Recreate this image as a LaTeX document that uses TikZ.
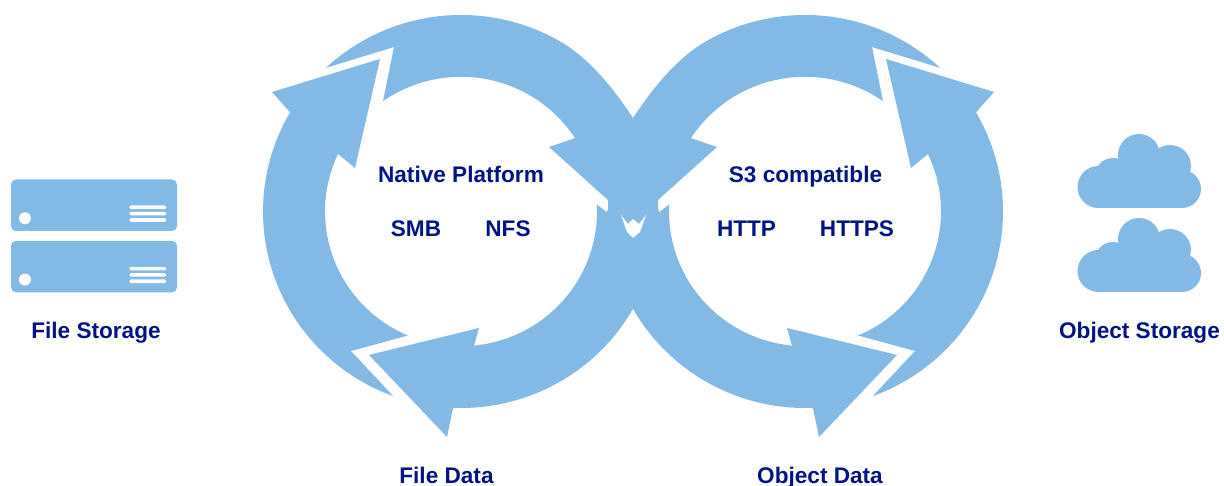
\documentclass[tikz,border=0pt]{standalone}
\usepackage{fontspec}
\usetikzlibrary{calc}
\setmainfont{Liberation Sans}
\definecolor{ringblue}{HTML}{83B9E5}
\definecolor{labelnavy}{HTML}{021485}
\tikzset{
  shapefill/.style={fill=ringblue,draw=none},
  hole/.style={fill=white,draw=none},
  lab/.style={text=labelnavy,font=\fontsize{22.6}{26}\selectfont\bfseries,anchor=base,inner sep=0pt,outer sep=0pt},
  outerarc/.style={x radius=198,y radius=196.5},
  innerarc/.style={x radius=136,y radius=134.7}
}
\newcommand{\ringpath}[1]{%
  \begin{scope}[#1]
  % top arrow joined to bottom arrow through the crossing
  \fill[shapefill] ($(461,-211.5)+(133:198 and 196.5)$) -- (394,-47)
    -- ($(461,-211.5)+(125:136 and 134.7)$)
    arc[start angle=125,end angle=33,innerarc]
    -- (549,-147) -- (608,-200) -- (608,-213)
    -- ($(461,-211.5)+(3:136 and 134.7)$)
    arc[start angle=3,end angle=-84.5,innerarc]
    -- (479,-328) -- (369,-355) -- (447,-437)
    -- ($(461,-211.5)+(-92.3:198 and 196.5)$)
    arc[start angle=-92.3,end angle=-29.7,outerarc]
    -- (659,-212) -- (633,-118)
    .. controls (621,-100) and (595,-61.5) .. ($(461,-211.5)+(60:198 and 196.5)$)
    arc[start angle=60,end angle=133,outerarc] -- cycle;
  % left arrow
  \fill[shapefill] (380,-59) -- (272,-92)
    -- ($(461,-211.5)+(149.7:198 and 196.5)$)
    arc[start angle=149.7,end angle=250,outerarc]
    -- (351,-351)
    -- ($(461,-211.5)+(247:136 and 134.7)$)
    arc[start angle=247,end angle=154.7,innerarc]
    -- (355,-168) -- cycle;
  \end{scope}
}
\newcommand{\serverbox}[1]{%
  \begin{scope}[yshift=#1]
  \fill[shapefill,rounded corners=5] (11,-179.5) rectangle (177,-231);
  \fill[hole] (25,-218.3) circle[radius=6];
  \foreach \yy in {-207.3,-213.6,-220}{
    \fill[hole,rounded corners=1.6] (129.3,\yy+1.8) rectangle (166.3,\yy-1.8);
  }
  \end{scope}
}
\newcommand{\cloudshape}[1]{%
  \begin{scope}[yshift=#1]
  \fill[shapefill] (1098.5,-187) circle[radius=21];
  \fill[shapefill] (1113,-176) circle[radius=18];
  \fill[shapefill] (1139,-155) circle[radius=21];
  \fill[shapefill] (1170,-166) circle[radius=21];
  \fill[shapefill] (1182,-189) circle[radius=19];
  \fill[shapefill] (1098.5,-208) rectangle (1182,-165);
  \fill[shapefill] (1120,-165) rectangle (1180,-150);
  \end{scope}
}
\begin{document}
\begin{tikzpicture}[x=1pt,y=1pt]
  \useasboundingbox (0,-486) rectangle (1224,0);
  \fill[white] (0,-486) rectangle (1224,0);
  \ringpath{}
  \ringpath{xshift=1266pt,xscale=-1}
  \fill[hole] (621,-215) -- (627,-232) -- (633,-238) -- (640,-232) -- (646,-215)
     -- (639,-224) -- (633,-219) -- (628,-224) -- cycle;
  \serverbox{0pt}
  \serverbox{-61.3pt}
  \cloudshape{0pt}
  \cloudshape{-84pt}
  \node[lab] (native) at (461,-183) {Native Platform};
  \node[lab] (smb) at (416,-237) {SMB};
  \node[lab] (nfs) at (508,-237) {NFS};
  \node[lab] (s3) at (805.5,-183) {S3 compatible};
  \node[lab] (http) at (746.5,-237) {HTTP};
  \node[lab] (https) at (857,-237) {HTTPS};
  \node[lab] (filestorage) at (96,-339) {File Storage};
  \node[lab] (objectstorage) at (1139.5,-339) {Object Storage};
  \node[lab] (filedata) at (446.5,-483) {File Data};
  \node[lab] (objectdata) at (820,-483) {Object Data};
\end{tikzpicture}
\end{document}
